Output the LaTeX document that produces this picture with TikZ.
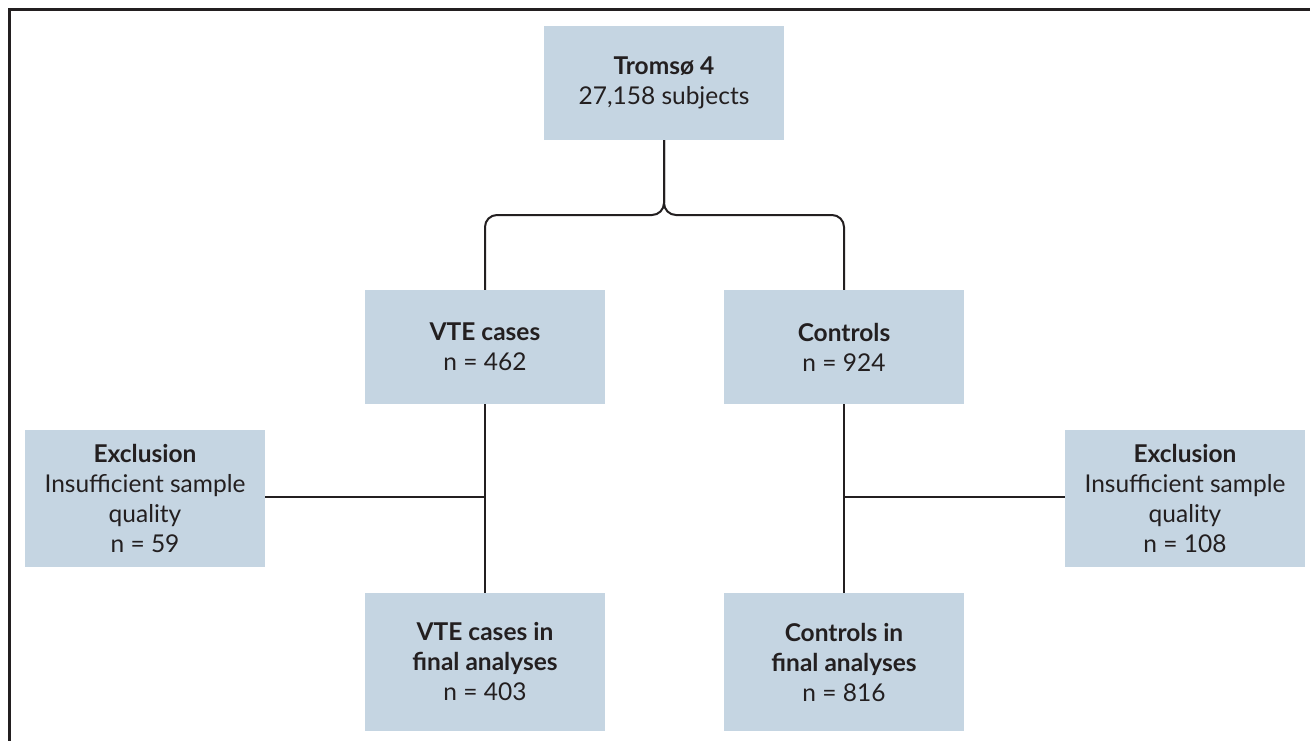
\documentclass[tikz,border=0pt]{standalone}
\usepackage{fontspec}
\setmainfont{Lato}
\definecolor{boxfill}{HTML}{C5D5E2}
\definecolor{ink}{HTML}{231F20}
\begin{document}
\begin{tikzpicture}[x=1pt,y=-1pt,
  fbox/.style={fill=boxfill, draw=none, minimum width=240pt, align=center, text=ink,
    font=\fontsize{24.5}{30}\selectfont, inner sep=0pt},
  conn/.style={draw=ink, line width=2pt}]
\useasboundingbox (0,0) rectangle (1310,741);
\fill[white] (0,0) rectangle (1310,741);
\draw[ink, line width=3pt] (9,741) -- (9,10) -- (1312,10);

\node[fbox, minimum height=114pt] (T) at (664,83) {\textbf{Tromsø 4}\\27,158 subjects};
\node[fbox, minimum height=114pt] (V) at (485,347) {\textbf{VTE cases}\\n = 462};
\node[fbox, minimum height=114pt] (C) at (844,347) {\textbf{Controls}\\n = 924};
\node[fbox, minimum height=137pt] (EL) at (145,498.5) {\textbf{Exclusion}\\Insufficient sample\\quality\\n = 59};
\node[fbox, minimum height=137pt] (ER) at (1185,498.5) {\textbf{Exclusion}\\Insufficient sample\\quality\\n = 108};
\node[fbox, minimum height=138pt] (VF) at (485,662) {\textbf{VTE cases in}\\\textbf{final analyses}\\n = 403};
\node[fbox, minimum height=138pt] (CF) at (844,662) {\textbf{Controls in}\\\textbf{final analyses}\\n = 816};

\coordinate (br) at (664,215);
\coordinate (jl) at (485,497);
\coordinate (jr) at (844,497);
\draw[conn, rounded corners=12pt] (T.south) -- (br) -| (V.north);
\draw[conn, rounded corners=12pt] (T.south) -- (br) -| (C.north);
\draw[conn] (V.south) -- (VF.north);
\draw[conn] (C.south) -- (CF.north);
\draw[conn] (EL.east |- jl) -- (jl);
\draw[conn] (ER.west |- jr) -- (jr);
\end{tikzpicture}
\end{document}
